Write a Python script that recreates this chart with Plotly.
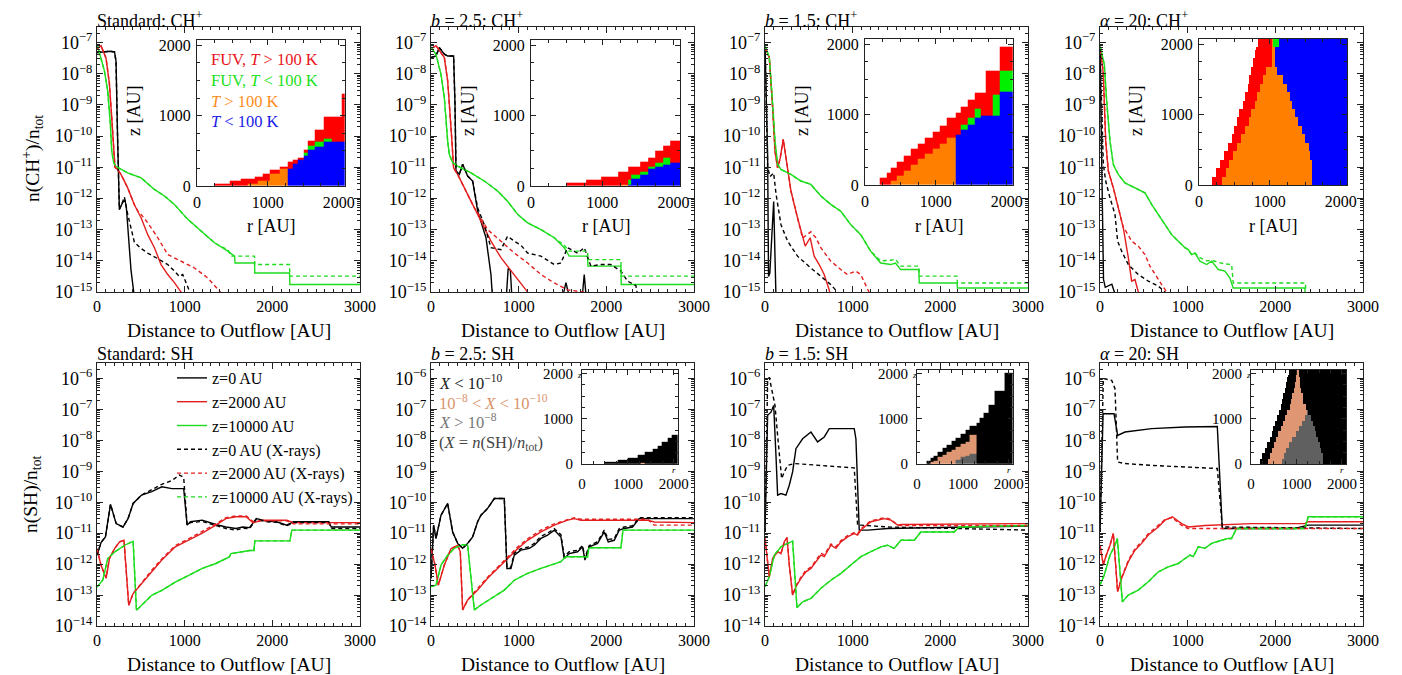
import numpy as np
import plotly.graph_objects as go

W, H = 1402, 675
FONT = "Liberation Serif"
RED_L = "#e41e1e"
GREEN_L = "#1edc1e"
BLACK_L = "#000000"

# ---------------- line data: (distance [AU], log10 abundance) ----------------
# Row 1: CH+
CH_STD_Z0 = ([0, 50, 100, 150, 200, 217, 236, 255, 293, 320, 335, 358, 388, 419, 440],
             [-7.32, -7.30, -7.28, -7.28, -7.30, -7.60, -10.2, -12.35, -12.13, -12.05, -12.3, -13.1, -14.3, -15.0, -15.5])
CH_STD_Z0X = ([0, 50, 100, 150, 200, 217, 236, 255, 293, 312, 350, 380, 426, 500, 578, 693, 807, 883, 940, 978, 1035, 1073, 1100],
              [-7.32, -7.30, -7.28, -7.28, -7.30, -7.60, -10.2, -12.35, -12.1, -11.95, -12.5, -12.9, -13.4, -13.6, -13.75, -13.93, -14.12, -14.33, -14.5, -14.44, -14.87, -15.1, -15.5])
CH_STD_Z2000 = ([0, 46, 103, 141, 168, 190, 205, 228, 274, 350, 426, 503, 579, 655, 731, 807, 883, 959, 1000],
                [-7.2, -7.1, -7.5, -8.3, -9.4, -10.5, -11.0, -11.05, -11.23, -11.66, -12.2, -12.62, -13.16, -13.58, -14.12, -14.44, -14.7, -15.0, -15.3])
CH_STD_Z2000X = ([0, 46, 103, 141, 168, 190, 205, 228, 274, 350, 426, 465, 503, 579, 693, 807, 959, 1112, 1264, 1416, 1450],
                 [-7.2, -7.1, -7.5, -8.3, -9.4, -10.5, -11.0, -11.05, -11.23, -11.66, -12.2, -12.4, -12.51, -12.78, -13.26, -13.8, -14.01, -14.23, -14.55, -15.03, -15.3])
CH_STD_Z1E4 = ([0, 84, 122, 152, 168, 190, 210, 350, 503, 655, 769, 883, 1035, 1188, 1340, 1492, 1568, 1575, 1797, 1800, 2196, 2200, 3000],
               [-7.05, -7.9, -8.55, -9.6, -10.48, -10.85, -10.96, -11.18, -11.34, -11.71, -11.92, -12.19, -12.67, -13.05, -13.42, -13.69, -13.85, -14.07, -14.07, -14.39, -14.39, -14.76, -14.76])
CH_STD_Z1E4X = ([0, 84, 122, 152, 168, 190, 210, 350, 503, 655, 769, 883, 1035, 1188, 1340, 1420, 1492, 1530, 1797, 1800, 2196, 2200, 3000],
                [-7.05, -7.9, -8.55, -9.6, -10.48, -10.85, -10.96, -11.18, -11.34, -11.71, -11.92, -12.19, -12.67, -13.05, -13.42, -13.55, -13.64, -13.85, -13.85, -14.12, -14.12, -14.49, -14.49])

CH_B25_Z0 = ([0, 57, 95, 152, 190, 258, 274, 285, 323, 361, 418, 475, 532, 570, 627, 684, 703, 720, 840, 860, 880, 905, 925, 940, 1500, 1515, 1539, 1565, 1580, 1715, 1730, 1748, 1765, 1780],
             [-7.48, -7.43, -7.16, -7.37, -7.43, -7.43, -9.0, -11.12, -11.23, -10.9, -11.28, -11.44, -12.4, -12.73, -13.26, -14.44, -15.0, -16, -16, -15.0, -14.25, -14.3, -15.0, -16, -16, -15.0, -14.7, -15.0, -16, -16, -15.0, -14.44, -15.0, -16])
CH_B25_Z0X = ([0, 57, 95, 152, 190, 258, 274, 285, 323, 361, 418, 475, 532, 570, 608, 684, 798, 874, 950, 1026, 1102, 1254, 1406, 1482, 1558, 1672, 1748, 1824, 1938, 2052, 2166, 2242, 2337, 2370],
              [-7.48, -7.43, -7.16, -7.37, -7.43, -7.43, -9.0, -11.12, -11.23, -10.9, -11.28, -11.44, -12.3, -12.6, -12.84, -13.58, -13.64, -13.21, -13.37, -13.5, -13.75, -13.85, -14.12, -14.07, -13.58, -13.75, -13.58, -14.17, -14.12, -14.12, -14.33, -14.65, -14.8, -15.3])
CH_B25_Z2000 = ([0, 57, 152, 190, 236, 258, 304, 380, 494, 570, 684, 798, 950, 1102, 1140],
                [-7.2, -7.1, -7.48, -8.23, -10.05, -11.02, -11.23, -11.66, -12.3, -12.73, -13.37, -13.9, -14.44, -15.0, -15.3])
CH_B25_Z2000X = ([0, 57, 152, 190, 236, 258, 304, 380, 494, 551, 646, 798, 950, 1102, 1254, 1406, 1558, 1710, 1786, 1800],
                 [-7.2, -7.1, -7.48, -8.23, -10.05, -11.02, -11.23, -11.66, -12.3, -12.55, -13.0, -13.37, -13.75, -14.07, -14.44, -14.71, -14.93, -14.99, -15.03, -15.3])
CH_B25_Z1E4 = ([0, 57, 114, 152, 190, 209, 247, 304, 456, 608, 760, 874, 988, 1102, 1254, 1406, 1520, 1577, 1786, 1790, 2166, 2170, 3000],
               [-7.14, -7.38, -8.02, -8.77, -10.16, -10.59, -10.85, -10.96, -11.18, -11.44, -11.76, -12.09, -12.51, -12.78, -13.0, -13.26, -13.58, -13.85, -13.85, -14.17, -14.17, -14.76, -14.76])
CH_B25_Z1E4X = ([0, 57, 114, 152, 190, 209, 247, 304, 456, 608, 760, 874, 988, 1102, 1254, 1406, 1520, 1577, 1786, 1790, 2166, 2170, 3000],
                [-7.14, -7.38, -8.02, -8.77, -10.16, -10.59, -10.85, -10.96, -11.18, -11.44, -11.76, -12.09, -12.51, -12.78, -13.0, -13.26, -13.5, -13.69, -13.69, -13.96, -13.96, -14.49, -14.49])

CH_B15_Z0 = ([0, 15, 30, 40, 55, 99, 118, 128],
             [-7.05, -8.6, -10.6, -14.5, -14.4, -12.1, -14.5, -15.5])
CH_B15_Z0X = ([0, 15, 30, 57, 99, 125, 182, 258, 371, 523, 637, 750, 826, 850],
              [-7.05, -9.0, -11.0, -11.3, -11.18, -11.84, -12.84, -13.37, -13.85, -14.23, -14.49, -14.76, -15.0, -15.3])
CH_B15_Z2000 = ([0, 49, 87, 114, 144, 174, 208, 239, 296, 371, 428, 459, 515, 561, 618, 675, 731, 760],
                [-7.16, -7.48, -9.09, -10.48, -11.02, -10.7, -10.1, -10.7, -11.76, -12.62, -13.16, -13.53, -13.26, -13.85, -14.12, -14.44, -14.92, -15.3])
CH_B15_Z2000X = ([0, 49, 87, 114, 144, 174, 208, 239, 296, 371, 428, 523, 580, 637, 750, 864, 940, 1035, 1092, 1186, 1200],
                 [-7.16, -7.48, -9.09, -10.48, -11.02, -10.7, -10.1, -10.7, -11.76, -12.62, -13.27, -13.07, -13.26, -13.58, -14.01, -14.28, -14.44, -14.33, -14.44, -15.0, -15.3])
CH_B15_Z1E4 = ([0, 49, 87, 114, 144, 182, 296, 409, 523, 637, 750, 864, 978, 1092, 1205, 1319, 1433, 1489, 1546, 1755, 1760, 2190, 2195, 3000],
               [-7.1, -7.48, -8.98, -10.16, -10.91, -11.07, -11.23, -11.44, -11.55, -11.92, -12.19, -12.41, -12.84, -13.16, -13.69, -14.07, -14.12, -14.07, -14.28, -14.28, -14.71, -14.71, -14.87, -14.87])
CH_B15_Z1E4X = ([0, 49, 87, 114, 144, 182, 296, 409, 523, 637, 750, 864, 978, 1092, 1205, 1319, 1433, 1489, 1546, 1755, 1760, 2190, 2195, 3000],
                [-7.1, -7.48, -8.98, -10.16, -10.91, -11.07, -11.23, -11.44, -11.55, -11.92, -12.19, -12.41, -12.84, -13.16, -13.69, -14.0, -13.98, -13.95, -14.17, -14.17, -14.49, -14.49, -14.71, -14.71])

CH_A20_Z0 = ([0, 10, 20, 30, 40, 60, 100, 135, 170, 180],
             [-7.2, -9.0, -11.0, -13.0, -14.6, -14.85, -14.8, -14.75, -15.05, -15.3])
CH_A20_Z0X = ([0, 19, 38, 65, 114, 171, 201, 247, 323, 437, 551, 665, 741, 760],
              [-7.16, -9.0, -10.9, -11.44, -11.98, -12.51, -13.37, -13.69, -14.12, -14.44, -14.65, -14.81, -15.0, -15.3])
CH_A20_Z2000 = ([0, 38, 65, 95, 152, 209, 266, 323, 361, 399, 437, 450],
                [-7.05, -8.02, -10.16, -11.12, -11.66, -12.3, -12.94, -13.9, -14.65, -14.6, -15.0, -15.3])
CH_A20_Z2000X = ([0, 38, 65, 95, 152, 209, 266, 285, 361, 437, 513, 570, 627, 703, 760, 780],
                 [-7.05, -8.02, -10.16, -11.12, -11.66, -12.3, -12.94, -13.0, -13.37, -13.53, -13.8, -14.17, -14.44, -14.76, -15.0, -15.3])
CH_A20_Z1E4 = ([0, 49, 76, 114, 152, 209, 285, 399, 513, 589, 665, 741, 817, 893, 969, 1007, 1045, 1083, 1140, 1216, 1273, 1349, 1425, 1482, 1520, 2337, 2345],
               [-7.1, -7.7, -8.87, -10.16, -10.91, -11.23, -11.5, -11.66, -11.82, -12.19, -12.51, -12.84, -13.16, -13.37, -13.58, -13.64, -13.8, -13.75, -14.01, -14.12, -14.01, -14.28, -14.33, -14.55, -14.87, -14.87, -15.5])
CH_A20_Z1E4X = ([0, 49, 76, 114, 152, 209, 285, 399, 513, 589, 665, 741, 817, 893, 969, 1007, 1045, 1083, 1140, 1216, 1273, 1349, 1425, 1501, 1520, 2344, 2350],
                [-7.1, -7.7, -8.87, -10.16, -10.91, -11.23, -11.5, -11.66, -11.82, -12.19, -12.51, -12.84, -13.16, -13.37, -13.58, -13.64, -13.8, -13.75, -13.9, -14.0, -13.98, -14.05, -14.1, -14.12, -14.71, -14.71, -15.5])

# Row 2: SH
SH_STD_Z0 = ([0, 46, 96, 154, 219, 296, 354, 412, 508, 624, 739, 855, 989, 1028, 1066, 1201, 1355, 1470, 1586, 1663, 1740, 1817, 1933, 2048, 2164, 2241, 2433, 2645, 2672, 3000],
             [-11.71, -11.3, -11.12, -10.07, -10.69, -10.8, -10.53, -10.04, -9.77, -9.66, -9.5, -9.56, -9.56, -10.74, -10.63, -10.58, -10.72, -10.8, -10.85, -10.8, -10.82, -10.53, -10.61, -10.63, -10.74, -10.63, -10.63, -10.63, -10.8, -10.8])
SH_STD_Z0X = ([0, 46, 96, 154, 219, 296, 354, 412, 508, 624, 739, 855, 940, 989, 1010, 1028, 1066, 1201, 1355, 1470, 1586, 1663, 1740, 1817, 1933, 2048, 2164, 2241, 2433, 2645, 2672, 3000],
              [-11.71, -11.3, -11.12, -10.07, -10.69, -10.8, -10.53, -10.04, -9.77, -9.6, -9.42, -9.3, -9.12, -9.2, -10.0, -10.74, -10.66, -10.62, -10.75, -10.85, -10.9, -10.84, -10.85, -10.55, -10.63, -10.65, -10.76, -10.66, -10.66, -10.66, -10.85, -10.85])
SH_STD_Z2000 = ([0, 46, 104, 142, 200, 258, 308, 362, 412, 508, 624, 739, 893, 1047, 1201, 1355, 1470, 1586, 1702, 1779, 1894, 2164, 2241, 3000],
                [-11.5, -12.04, -12.45, -11.82, -11.5, -11.28, -11.23, -13.33, -12.95, -12.63, -12.25, -11.87, -11.44, -11.23, -11.0, -10.74, -10.53, -10.47, -10.47, -10.66, -10.58, -10.58, -10.66, -10.66])
SH_STD_Z2000X = ([0, 46, 104, 142, 200, 258, 308, 362, 412, 508, 624, 739, 893, 1047, 1201, 1355, 1470, 1586, 1702, 1779, 1894, 2164, 2241, 3000],
                 [-11.5, -12.04, -12.45, -11.82, -11.5, -11.28, -11.23, -13.33, -12.95, -12.6, -12.2, -11.83, -11.4, -11.18, -10.95, -10.7, -10.5, -10.44, -10.44, -10.62, -10.6, -10.6, -10.7, -10.7])
SH_STD_Z1E4 = ([0, 65, 123, 200, 316, 412, 450, 508, 624, 739, 893, 1047, 1201, 1355, 1470, 1509, 1528, 1625, 1740, 1790, 1800, 2200, 2222, 3000],
               [-12.74, -12.52, -11.82, -11.61, -11.39, -11.26, -13.49, -13.33, -13.01, -12.85, -12.58, -12.36, -12.14, -11.98, -11.82, -11.77, -11.66, -11.61, -11.56, -11.56, -11.25, -11.25, -10.9, -10.9])
SH_STD_Z1E4X = SH_STD_Z1E4

SH_B25_Z0 = ([0, 30, 57, 114, 190, 247, 304, 361, 418, 475, 532, 570, 646, 722, 817, 836, 866, 912, 950, 1026, 1121, 1178, 1254, 1330, 1406, 1482, 1520, 1577, 1672, 1729, 1756, 1805, 1900, 1976, 2022, 2090, 2147, 2204, 2299, 2375, 3000],
             [-12.46, -10.74, -11.17, -10.42, -10.04, -10.96, -11.33, -11.49, -11.33, -11.12, -10.63, -10.42, -10.2, -9.88, -9.88, -9.88, -12.14, -12.14, -11.71, -11.55, -11.49, -11.39, -11.17, -11.06, -10.9, -11.12, -11.82, -11.66, -11.6, -11.44, -11.87, -11.44, -11.33, -10.96, -11.28, -11.23, -10.9, -10.85, -10.8, -10.53, -10.53])
SH_B25_Z0X = ([0, 30, 57, 114, 190, 247, 304, 361, 418, 475, 532, 570, 646, 722, 817, 836, 866, 912, 950, 1026, 1121, 1178, 1254, 1330, 1406, 1482, 1520, 1577, 1672, 1729, 1756, 1805, 1900, 1976, 2022, 2090, 2147, 2204, 2299, 2375, 3000],
              [-12.46, -10.74, -11.17, -10.42, -10.04, -10.96, -11.33, -11.49, -11.33, -11.12, -10.63, -10.42, -10.2, -9.88, -9.88, -9.88, -12.1, -12.1, -11.65, -11.5, -11.44, -11.33, -11.1, -11.0, -10.85, -11.05, -11.75, -11.6, -11.55, -11.4, -11.8, -11.4, -11.28, -10.9, -11.2, -11.18, -10.85, -10.8, -10.76, -10.5, -10.5])
SH_B25_Z2000 = ([0, 46, 84, 152, 228, 304, 334, 361, 418, 532, 646, 760, 874, 988, 1102, 1254, 1406, 1558, 1634, 1710, 2470, 2546, 3000],
                [-11.5, -12.03, -12.68, -12.03, -11.5, -11.39, -11.6, -13.48, -13.16, -12.84, -12.46, -12.14, -11.82, -11.5, -11.23, -10.96, -10.74, -10.58, -10.53, -10.58, -10.58, -10.64, -10.66])
SH_B25_Z2000X = ([0, 46, 84, 152, 228, 304, 334, 361, 418, 532, 646, 760, 874, 988, 1102, 1254, 1406, 1558, 1634, 1710, 2470, 2546, 3000],
                 [-11.5, -12.03, -12.68, -12.03, -11.5, -11.39, -11.6, -13.48, -13.16, -12.8, -12.42, -12.1, -11.78, -11.45, -11.18, -10.9, -10.7, -10.55, -10.5, -10.55, -10.55, -10.74, -10.74])
SH_B25_Z1E4 = ([0, 57, 114, 190, 266, 361, 418, 494, 570, 684, 836, 950, 1102, 1254, 1406, 1482, 1539, 1786, 1800, 2166, 2190, 3000],
               [-12.73, -12.68, -12.03, -11.71, -11.49, -11.37, -11.39, -13.48, -13.32, -13.11, -12.84, -12.52, -12.3, -12.14, -11.98, -11.92, -11.76, -11.76, -11.47, -11.47, -10.9, -10.9])
SH_B25_Z1E4X = SH_B25_Z1E4

SH_B15_Z0 = ([0, 30, 68, 99, 125, 144, 182, 239, 277, 315, 353, 429, 524, 600, 676, 733, 1018, 1037, 1075, 1170, 1398, 1778, 2158, 3000],
             [-10.96, -7.19, -7.09, -6.87, -8.48, -9.77, -9.72, -9.77, -9.45, -9.02, -8.27, -7.95, -7.73, -8.05, -7.89, -7.62, -7.62, -7.95, -10.9, -10.9, -10.85, -10.82, -10.81, -10.77])
SH_B15_Z0X = ([0, 30, 49, 87, 114, 144, 190, 220, 258, 334, 486, 714, 866, 1018, 1056, 1094, 1398, 2158, 3000],
              [-10.96, -6.06, -5.96, -6.55, -6.87, -7.84, -9.24, -9.02, -8.81, -8.75, -8.78, -8.81, -8.84, -8.89, -10.74, -10.74, -10.8, -10.85, -10.9])
SH_B15_Z2000 = ([0, 49, 87, 144, 182, 220, 251, 277, 315, 353, 410, 467, 524, 581, 638, 676, 752, 809, 866, 942, 1018, 1056, 1094, 1208, 1284, 1360, 1436, 1512, 1550, 3000],
                [-11.17, -12.41, -11.82, -11.6, -11.66, -11.28, -11.14, -12.03, -13.0, -12.73, -12.46, -12.25, -12.14, -11.92, -11.71, -11.76, -11.39, -11.49, -11.28, -11.12, -11.01, -11.06, -10.9, -10.63, -10.58, -10.53, -10.58, -10.74, -10.72, -10.69])
SH_B15_Z2000X = ([0, 49, 87, 144, 182, 220, 251, 277, 315, 353, 410, 467, 524, 581, 638, 676, 752, 809, 866, 942, 1018, 1056, 1094, 1208, 1284, 1360, 1436, 1512, 1550, 3000],
                 [-11.17, -12.41, -11.82, -11.6, -11.66, -11.28, -11.14, -12.03, -13.0, -12.7, -12.42, -12.2, -12.1, -11.87, -11.65, -11.7, -11.35, -11.44, -11.24, -11.08, -10.98, -11.02, -10.86, -10.6, -10.55, -10.5, -10.55, -10.74, -10.75, -10.75])
SH_B15_Z1E4 = ([0, 49, 106, 182, 258, 315, 365, 429, 524, 638, 752, 866, 980, 1094, 1208, 1322, 1398, 1474, 1550, 1702, 1778, 2158, 2215, 3000],
               [-12.73, -12.41, -11.71, -11.44, -11.33, -11.26, -13.41, -13.22, -13.11, -12.78, -12.52, -12.3, -12.03, -11.76, -11.6, -11.44, -11.39, -11.49, -11.23, -11.23, -10.96, -10.96, -10.8, -10.75])
SH_B15_Z1E4X = SH_B15_Z1E4

SH_A20_Z0 = ([0, 35, 49, 114, 160, 201, 285, 589, 969, 1338, 1395, 1729, 2223, 2375, 3000],
             [-10.96, -7.14, -7.14, -7.14, -7.14, -7.84, -7.73, -7.62, -7.57, -7.55, -10.85, -10.85, -10.85, -10.74, -10.74])
SH_A20_Z0X = ([0, 38, 133, 171, 201, 285, 589, 969, 1338, 1395, 3000],
              [-10.96, -6.0, -6.06, -6.33, -8.7, -8.75, -8.81, -8.86, -8.91, -10.8, -10.85])
SH_A20_Z2000 = ([0, 38, 65, 114, 152, 201, 247, 323, 399, 475, 551, 665, 741, 825, 931, 1007, 1197, 1729, 2337, 2375, 3000],
                [-11.39, -12.03, -11.76, -11.39, -11.01, -12.89, -12.46, -11.92, -11.55, -11.33, -11.06, -10.8, -10.58, -10.47, -10.69, -10.8, -10.75, -10.69, -10.69, -10.63, -10.63])
SH_A20_Z2000X = ([0, 38, 65, 114, 152, 201, 247, 323, 399, 475, 551, 665, 741, 825, 931, 1007, 1197, 1729, 2337, 2375, 3000],
                 [-11.39, -12.03, -11.76, -11.39, -11.01, -12.89, -12.42, -11.88, -11.5, -11.28, -11.02, -10.76, -10.56, -10.5, -10.75, -10.85, -10.85, -10.85, -10.85, -10.85, -10.85])
SH_A20_Z1E4 = ([0, 49, 114, 171, 198, 255, 323, 437, 551, 665, 779, 893, 969, 1026, 1064, 1121, 1197, 1273, 1387, 1463, 1501, 1558, 2337, 2375, 3000],
               [-12.68, -12.35, -11.71, -11.39, -11.17, -13.22, -13.0, -12.84, -12.57, -12.25, -12.09, -11.98, -11.82, -11.71, -11.76, -11.44, -11.49, -11.33, -11.23, -11.17, -11.17, -10.85, -10.85, -10.47, -10.47])
SH_A20_Z1E4X = SH_A20_Z1E4

# ---------------- inset maps ----------------
# column maps: r column edges and cumulative layer tops (z, AU), bottom-up
STD_R = [250, 460, 624, 720, 813, 861, 932, 1026, 1168, 1287, 1357, 1428, 1500, 1570, 1665, 1783, 1900, 2043, 2090]
STD_ORANGE = [0, 0, 0, 33, 33, 66, 66, 170, 240, 0, 0, 0, 0, 0, 0, 0, 0, 0]
STD_BLUE = [0, 0, 0, 33, 33, 66, 66, 170, 240, 247, 318, 375, 428, 508, 556, 627, 627, 627]
STD_GREEN = [0, 0, 0, 33, 33, 66, 66, 170, 240, 247, 318, 375, 480, 570, 630, 680, 627, 627]
STD_RED = [28, 66, 104, 104, 138, 138, 176, 233, 271, 342, 380, 404, 520, 640, 800, 983, 983, 1306]

B25_R = [493, 775, 987, 1222, 1270, 1363, 1410, 1528, 1645, 1739, 1857, 1950, 2090]
B25_ORANGE = [0, 0, 0, 0, 25, 0, 0, 0, 0, 0, 0, 0]
B25_BLUE = [0, 0, 0, 0, 25, 24, 100, 165, 236, 270, 307, 330]
B25_GREEN = [0, 0, 0, 0, 25, 94, 165, 212, 269, 330, 401, 330]
B25_RED = [47, 94, 142, 212, 212, 283, 283, 345, 401, 496, 566, 646]

B15_R = [208, 300, 364, 450, 550, 650, 750, 850, 950, 1050, 1150, 1287, 1357, 1452, 1547, 1641, 1698, 1807, 1900, 2090]
B15_ORANGE = [0, 0, 60, 130, 210, 290, 370, 440, 520, 590, 680, 0, 0, 0, 0, 0, 0, 0, 0]
B15_BLUE = [0, 0, 60, 130, 210, 290, 370, 440, 520, 590, 680, 722, 793, 864, 960, 983, 983, 983, 1316]
B15_GREEN = [0, 0, 60, 130, 210, 290, 370, 440, 520, 590, 680, 722, 864, 960, 1088, 983, 983, 1292, 1625]
B15_RED = [100, 170, 240, 330, 420, 510, 590, 680, 760, 850, 960, 1030, 1120, 1210, 1306, 1306, 1634, 1634, 1967]

# row maps (alpha=20): z row edges and r where each class starts, left to right
A20_Z = [0, 120, 240, 360, 480, 600, 720, 840, 960, 1080, 1200, 1320, 1440, 1560, 1680, 1800, 1920, 1960, 2075]
A20_RED_START = [190, 240, 300, 360, 410, 460, 490, 530, 570, 620, 650, 690, 715, 740, 760, 790, 815, 830]
A20_ORANGE_START = [330, 380, 430, 480, 540, 600, 650, 700, 740, 790, 820, 860, 900, 940, 1030, 1030, 1030, 1030]
A20_GREEN_START = [1594, 1594, 1594, 1570, 1547, 1500, 1452, 1405, 1357, 1310, 1290, 1239, 1192, 1100, 1074, 1074, 1074, 1036]
A20_BLUE_START = [1594, 1594, 1594, 1570, 1547, 1500, 1452, 1405, 1357, 1310, 1290, 1239, 1192, 1100, 1074, 1074, 1074, 1130]

SHB25_GRAY = [0] * 12
SHB25_TAN = [0, 0, 0, 0, 25, 0, 0, 0, 0, 0, 0, 0]
SHB25_BLACK = [47, 94, 142, 212, 212, 283, 283, 345, 401, 496, 566, 646]

SHB15_GRAY = [0, 0, 0, 0, 0, 0, 0, 90, 160, 180, 230, 0, 0, 0, 0, 0, 0, 0, 0]
SHB15_TAN = [0, 40, 80, 150, 200, 260, 320, 390, 440, 500, 650, 0, 0, 0, 0, 0, 0, 0, 0]
SHB15_BLACK = [70, 130, 190, 270, 350, 430, 510, 590, 670, 750, 840, 920, 1020, 1129, 1314, 1314, 1609, 1609, 2015]

SHA20_BLK1_START = [190, 240, 300, 360, 410, 460, 490, 530, 570, 620, 650, 690, 715, 740, 760, 790, 815, 830]
SHA20_TAN_START = [380, 420, 470, 510, 550, 600, 650, 700, 740, 790, 850, 880, 910, 940, 970, 990, 1000, 1020]
SHA20_GRAY_START = [680, 720, 780, 840, 900, 980, 1060, 1130, 1190, 1230, 1200, 1150, 1143, 1100, 1080, 1070, 1060, 1050]
SHA20_BLK2_START = [1580, 1580, 1540, 1507, 1470, 1434, 1400, 1361, 1310, 1260, 1200, 1150, 1143, 1100, 1080, 1070, 1060, 1050]

# class codes and colours
C_RED, C_GREEN, C_ORANGE, C_BLUE, C_BLACK, C_TAN, C_GRAY = 1, 2, 3, 4, 5, 6, 7
MAP_COLORS = ["#ff0000", "#00f000", "#ff8000", "#0000ff", "#000000", "#de9673", "#606060"]
R_MAX, Z_MAX = 2090, 2075


def col_map(r_edges, layers, dz=10.0):
    y_edges = np.arange(0, Z_MAX + dz, dz)
    yc = 0.5 * (y_edges[:-1] + y_edges[1:])
    Z = np.full((len(yc), len(r_edges) - 1), np.nan)
    for j in range(len(r_edges) - 1):
        for i, zc in enumerate(yc):
            for tops, code in layers:
                if zc < tops[j]:
                    Z[i, j] = code
                    break
    return np.array(r_edges, float), y_edges, Z


def row_map(z_edges, layers, dr=10.0):
    x_edges = np.arange(0, R_MAX + dr, dr)
    xc = 0.5 * (x_edges[:-1] + x_edges[1:])
    Z = np.full((len(z_edges) - 1, len(xc)), np.nan)
    for i in range(len(z_edges) - 1):
        for j, rc in enumerate(xc):
            code = np.nan
            for starts, c in layers:
                if rc >= starts[i]:
                    code = c
            Z[i, j] = code
    return x_edges, np.array(z_edges, float), Z


n = len(MAP_COLORS)
CSCALE = []
for k, c in enumerate(MAP_COLORS):
    CSCALE.append([k / n, c])
    CSCALE.append([(k + 1) / n, c])

# ---------------- layout geometry (pixels) ----------------
COL_L = [89, 423, 757, 1092]
COL_R = [352, 686, 1020, 1355]
ROW_T = [19, 355]
ROW_B = [284, 618]
INSETS = {  # axis index: (x0, x1, y0, y1)
    9: (189, 337, 32, 178), 10: (523, 672, 32, 178), 11: (857, 1005, 31, 177), 12: (1191, 1339, 31, 177),
    13: (574, 670, 362, 456), 14: (909, 1005, 362, 456), 15: (1243, 1338, 362, 456),
}


def px(x):
    return x / W


def py(y):
    return 1 - y / H


fig = go.Figure()
SUP = "\u2212"

panels = [
    (1, [CH_STD_Z0, CH_STD_Z2000, CH_STD_Z1E4, CH_STD_Z0X, CH_STD_Z2000X, CH_STD_Z1E4X]),
    (2, [CH_B25_Z0, CH_B25_Z2000, CH_B25_Z1E4, CH_B25_Z0X, CH_B25_Z2000X, CH_B25_Z1E4X]),
    (3, [CH_B15_Z0, CH_B15_Z2000, CH_B15_Z1E4, CH_B15_Z0X, CH_B15_Z2000X, CH_B15_Z1E4X]),
    (4, [CH_A20_Z0, CH_A20_Z2000, CH_A20_Z1E4, CH_A20_Z0X, CH_A20_Z2000X, CH_A20_Z1E4X]),
    (5, [SH_STD_Z0, SH_STD_Z2000, SH_STD_Z1E4, SH_STD_Z0X, SH_STD_Z2000X, SH_STD_Z1E4X]),
    (6, [SH_B25_Z0, SH_B25_Z2000, SH_B25_Z1E4, SH_B25_Z0X, SH_B25_Z2000X, SH_B25_Z1E4X]),
    (7, [SH_B15_Z0, SH_B15_Z2000, SH_B15_Z1E4, SH_B15_Z0X, SH_B15_Z2000X, SH_B15_Z1E4X]),
    (8, [SH_A20_Z0, SH_A20_Z2000, SH_A20_Z1E4, SH_A20_Z0X, SH_A20_Z2000X, SH_A20_Z1E4X]),
]
NAMES = ["z=0 AU", "z=2000 AU", "z=10000 AU", "z=0 AU (X-rays)", "z=2000 AU (X-rays)", "z=10000 AU (X-rays)"]
COLORS = [BLACK_L, RED_L, GREEN_L, BLACK_L, RED_L, GREEN_L]
DASHES = ["solid", "solid", "solid", "4px,3px", "4px,3px", "4px,3px"]

for idx, series in panels:
    for k, (xs, ly) in enumerate(series):
        fig.add_trace(go.Scatter(
            x=xs, y=10.0 ** np.array(ly), mode="lines",
            line=dict(color=COLORS[k], width=1.4, dash=DASHES[k]),
            name=NAMES[k], showlegend=(idx == 5),
            xaxis=f"x{idx}", yaxis=f"y{idx}", hoverinfo="skip"))

# inset heatmaps
maps = {
    9: col_map(STD_R, [(STD_ORANGE, C_ORANGE), (STD_BLUE, C_BLUE), (STD_GREEN, C_GREEN), (STD_RED, C_RED)]),
    10: col_map(B25_R, [(B25_ORANGE, C_ORANGE), (B25_BLUE, C_BLUE), (B25_GREEN, C_GREEN), (B25_RED, C_RED)]),
    11: col_map(B15_R, [(B15_ORANGE, C_ORANGE), (B15_BLUE, C_BLUE), (B15_GREEN, C_GREEN), (B15_RED, C_RED)]),
    12: row_map(A20_Z, [(A20_RED_START, C_RED), (A20_ORANGE_START, C_ORANGE), (A20_GREEN_START, C_GREEN), (A20_BLUE_START, C_BLUE)]),
    13: col_map(B25_R, [(SHB25_GRAY, C_GRAY), (SHB25_TAN, C_TAN), (SHB25_BLACK, C_BLACK)]),
    14: col_map(B15_R, [(SHB15_GRAY, C_GRAY), (SHB15_TAN, C_TAN), (SHB15_BLACK, C_BLACK)]),
    15: row_map(A20_Z, [(SHA20_BLK1_START, C_BLACK), (SHA20_TAN_START, C_TAN), (SHA20_GRAY_START, C_GRAY), (SHA20_BLK2_START, C_BLACK)]),
}
for i, (xe, ye, Z) in maps.items():
    fig.add_trace(go.Heatmap(x=xe, y=ye, z=Z, colorscale=CSCALE, zmin=0.5, zmax=n + 0.5,
                             showscale=False, xaxis=f"x{i}", yaxis=f"y{i}", hoverinfo="skip"))

# ---------------- axes ----------------
XTICKFONT = dict(family=FONT, size=16, color="black")
YTICKFONT = dict(family=FONT, size=18, color="black")
LINEC = "#222222"
layout = {}
minor_log = [k * 10.0 ** e for e in range(-16, -4) for k in range(2, 10)]
for idx in range(1, 9):
    c = (idx - 1) % 4
    r = (idx - 1) // 4
    xk = "xaxis" if idx == 1 else f"xaxis{idx}"
    yk = "yaxis" if idx == 1 else f"yaxis{idx}"
    layout[xk] = dict(domain=[px(COL_L[c]), px(COL_R[c])], anchor=f"y{idx}", range=[0, 3000],
                      tickmode="array", tickvals=[0, 1000, 2000, 3000], ticks="inside", ticklen=6,
                      tickcolor=LINEC, showline=True, linecolor=LINEC, linewidth=1, mirror="allticks",
                      showgrid=False, zeroline=False, tickfont=XTICKFONT,
                      minor=dict(tickmode="array", tickvals=list(range(100, 3000, 100)), ticks="inside",
                                 ticklen=3, tickcolor=LINEC, showgrid=False))
    if r == 0:
        yr, decs = [-15, -6.5], range(-15, -6)
    else:
        yr, decs = [-14, -5.5], range(-14, -5)
    layout[yk] = dict(domain=[py(ROW_B[r]), py(ROW_T[r])], anchor=f"x{idx}", type="log", range=yr,
                      tickmode="array", tickvals=[10.0 ** e for e in decs],
                      ticktext=[f"10<sup>{SUP}{-e}</sup>" for e in decs],
                      ticks="inside", ticklen=6, tickcolor=LINEC, showline=True, linecolor=LINEC,
                      linewidth=1, mirror="allticks", showgrid=False, zeroline=False, tickfont=YTICKFONT,
                      minor=dict(tickmode="array", tickvals=minor_log, ticks="inside", ticklen=3,
                                 tickcolor=LINEC, showgrid=False))

for i, (x0, x1, y0, y1) in INSETS.items():
    fs = 16 if i <= 12 else 15
    tf = dict(family=FONT, size=fs, color="black")
    layout[f"xaxis{i}"] = dict(domain=[px(x0), px(x1)], anchor=f"y{i}", range=[0, R_MAX],
                               tickmode="array", tickvals=[0, 1000, 2000], ticks="inside", ticklen=5,
                               tickcolor=LINEC, showline=True, linecolor=LINEC, linewidth=1, mirror="allticks",
                               showgrid=False, zeroline=False, tickfont=tf,
                               ticklabelstandoff=(6 if i > 12 else 2),
                               minor=dict(tickmode="array", tickvals=[250, 500, 750, 1250, 1500, 1750],
                                          ticks="inside", ticklen=3, tickcolor=LINEC, showgrid=False))
    layout[f"yaxis{i}"] = dict(domain=[py(y1), py(y0)], anchor=f"x{i}", range=[0, Z_MAX],
                               tickmode="array", tickvals=[0, 1000, 2000], ticks="inside", ticklen=5,
                               tickcolor=LINEC, showline=True, linecolor=LINEC, linewidth=1, mirror="allticks",
                               showgrid=False, zeroline=False, tickfont=tf,
                               ticklabelstandoff=(5 if i > 12 else 2),
                               minor=dict(tickmode="array", tickvals=[250, 500, 750, 1250, 1500, 1750],
                                          ticks="inside", ticklen=3, tickcolor=LINEC, showgrid=False))

# ---------------- annotations ----------------
ann = []


def text(x, y, s, size=17, color="black", xanchor="center", yanchor="middle", angle=0):
    ann.append(dict(x=px(x), y=py(y), xref="paper", yref="paper", text=s, showarrow=False,
                    xanchor=xanchor, yanchor=yanchor, textangle=angle, borderpad=0,
                    font=dict(family=FONT, size=size, color=color)))


TITLES = [
    "Standard: CH<sup>+</sup>", "<i>b</i> = 2.5: CH<sup>+</sup>", "<i>b</i> = 1.5: CH<sup>+</sup>",
    "<i>\u03b1</i> = 20: CH<sup>+</sup>",
    "Standard: SH", "<i>b</i> = 2.5: SH", "<i>b</i> = 1.5: SH", "<i>\u03b1</i> = 20: SH",
]
for idx in range(8):
    c, r = idx % 4, idx // 4
    text(COL_L[c] - 1, ROW_T[r] - 20, TITLES[idx], size=18, xanchor="left", yanchor="top")
    text((COL_L[c] + COL_R[c]) / 2, ROW_B[r] + 38, "Distance to Outflow [AU]", size=19.5)
text(24, 151, "n(CH<sup>+</sup>)/n<sub>tot</sub>", size=19.5, angle=-90)
text(24, 487, "n(SH)/n<sub>tot</sub>", size=19.5, angle=-90)

for i in (9, 10, 11, 12):
    x0, x1, y0, y1 = INSETS[i]
    text((x0 + x1) / 2, 218, "r [AU]", size=18)
    text(x0 - 63, 103, "z [AU]", size=18, angle=-90)
for i in (13, 14, 15):
    x0, x1, y0, y1 = INSETS[i]
    text(x0 - 3, 367, "<i>z</i>", size=9)
    text(x1 - 4, 462, "<i>r</i>", size=9)

LEG_Y = [52, 72, 93, 113]
LEG_T = ["FUV, <i>T</i> &gt; 100 K", "FUV, <i>T</i> &lt; 100 K", "<i>T</i> &gt; 100 K", "<i>T</i> &lt; 100 K"]
LEG_C = ["#e8141c", "#22e022", "#ff8c1a", "#1a1ae6"]
for yy, s, cc in zip(LEG_Y, LEG_T, LEG_C):
    text(202, yy, s, size=16.5, color=cc, xanchor="left")

SH_Y = [374, 395, 414, 435]
SH_T = ["<i>X</i> &lt; 10<sup>\u221210</sup>", "10<sup>\u22128</sup> &lt; <i>X</i> &lt; 10<sup>\u221210</sup>",
        "<i>X</i> &gt; 10<sup>\u22128</sup>", "(<i>X</i> = <i>n</i>(SH)/<i>n</i><sub>tot</sub>)"]
SH_C = ["#222222", "#d9946c", "#777777", "#444444"]
for yy, s, cc in zip(SH_Y, SH_T, SH_C):
    text(430, yy, s, size=16.5, color=cc, xanchor="left")

fig.update_layout(
    width=W, height=H, margin=dict(l=0, r=0, t=0, b=0), template="none",
    paper_bgcolor="white", plot_bgcolor="white", annotations=ann,
    legend=dict(x=px(164), y=py(353), xanchor="left", yanchor="top", bgcolor="rgba(0,0,0,0)",
                font=dict(family=FONT, size=16, color="black"), tracegroupgap=0),
    showlegend=True, **layout)

fig.write_html("out.html")
